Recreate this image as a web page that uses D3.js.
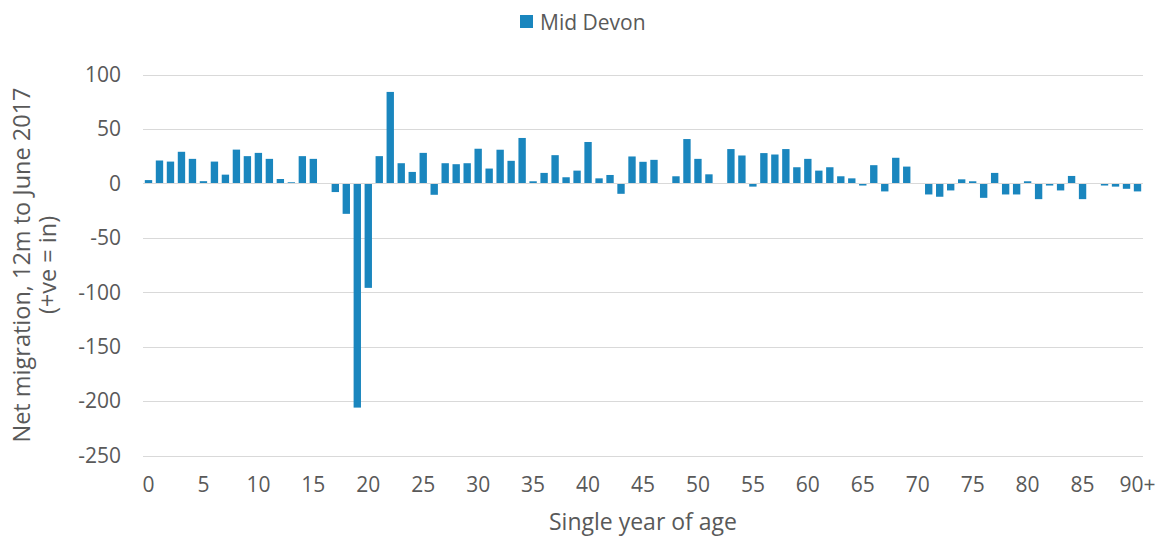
<!DOCTYPE html>
<html><head><meta charset="utf-8">
<script src="https://cdn.jsdelivr.net/npm/d3@7"></script>
<style>body{margin:0;background:#fff}text{font-family:"Open Sans",sans-serif;fill:#595959}</style>
</head><body><svg id="c" width="1162" height="538"></svg>
<script>
const ages = d3.range(0, 91).map(a => a === 90 ? "90+" : String(a));
const values = [3,21,20,29,22.5,2,20,8,31,25,28,22.5,4,1,25,22.5,0,-8,-28,-206,-96,25,84,18.5,10.5,28,-10.5,18.5,17.6,18.5,31.8,13.6,30.9,20.7,41.7,1.9,9.6,25.9,5.6,11.7,38,4.6,7.7,-9.6,24.7,19.8,21.6,0,6.5,40.7,22.5,8.3,0,31.5,25.6,-3,27.8,26.5,31.5,14.8,22.5,11.7,14.8,6.5,4.6,-2,16.7,-7.4,23.5,15.4,0,-10.2,-12.3,-6.5,3.7,1.9,-13.3,9.6,-10.2,-10.2,1.9,-14.5,-2,-6.5,6.8,-14.5,-0.5,-2,-3,-5,-7.4];
const yTicks = [100,50,0,-50,-100,-150,-200,-250];
const xTickLabels = ["0","5","10","15","20","25","30","35","40","45","50","55","60","65","70","75","80","85","90+"];
const seriesName = "Mid Devon";
const color = "#1a86be";

const svg = d3.select("#c");
const m = {l:143, r:1143, t:74.5, b:455.5};
const x = d3.scaleBand().domain(ages).range([m.l, m.r]).paddingInner(0.33).paddingOuter(0.165);
const y = d3.scaleLinear().domain([-250,100]).range([m.b, m.t]);

svg.append("g").selectAll("line").data(yTicks).join("line")
  .attr("x1", m.l).attr("x2", m.r)
  .attr("y1", d => Math.round(y(d))+0.5).attr("y2", d => Math.round(y(d))+0.5)
  .attr("stroke", "#d9d9d9").attr("stroke-width", 1);

svg.append("g").selectAll("rect").data(values).join("rect")
  .attr("x", (d,i) => x(ages[i]))
  .attr("width", x.bandwidth())
  .attr("y", d => y(Math.max(0,d)))
  .attr("height", d => Math.abs(y(d) - y(0)))
  .attr("fill", color);

svg.append("line").attr("x1", m.l).attr("x2", m.r)
  .attr("y1", Math.round(y(0))+0.5).attr("y2", Math.round(y(0))+0.5)
  .attr("stroke", "#d9d9d9").attr("stroke-width", 1);

svg.append("g").selectAll("text").data(yTicks).join("text")
  .attr("x", 121).attr("y", d => y(d)).attr("dy", "0.35em")
  .attr("text-anchor", "end").style("font-size", "21px").text(d => d);

svg.append("g").selectAll("text").data(xTickLabels).join("text")
  .attr("x", d => x(d) + x.bandwidth()/2).attr("y", 492)
  .attr("text-anchor", "middle").style("font-size", "21px").text(d => d);

svg.append("text").attr("x", 643).attr("y", 530).attr("text-anchor", "middle")
  .style("font-size", "23px").text("Single year of age");

const yt = svg.append("text").attr("transform", "translate(0,265) rotate(-90)")
  .attr("text-anchor", "middle").style("font-size", "23.5px");
yt.append("tspan").attr("x", 0).attr("y", 30).text("Net migration, 12m to June 2017");
yt.append("tspan").attr("x", 0).attr("y", 55.5).text("(+ve = in)");

svg.append("rect").attr("x", 520).attr("y", 15).attr("width", 13).attr("height", 13).attr("fill", color);
svg.append("text").attr("x", 540).attr("y", 23).attr("dy", "0.35em").style("font-size", "21px").text(seriesName);
</script></body></html>
